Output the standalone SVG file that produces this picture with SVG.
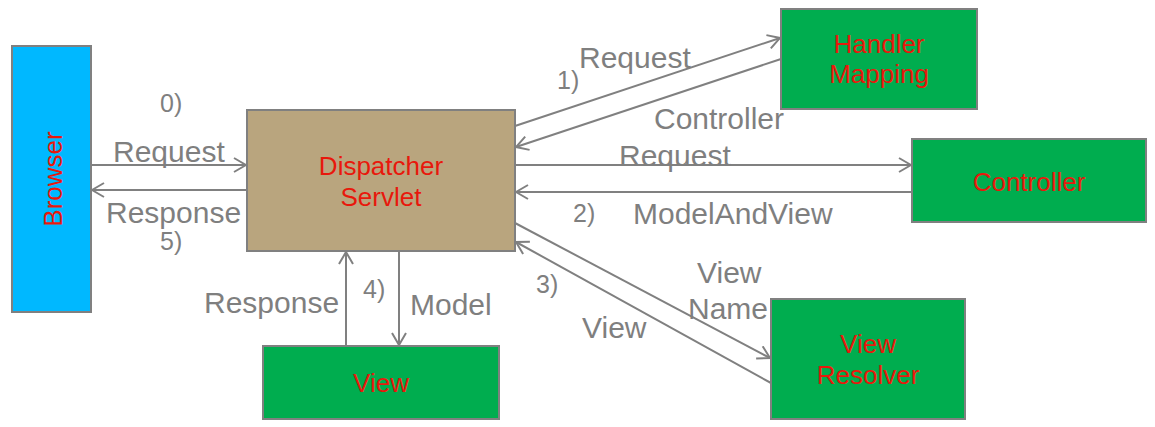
<svg xmlns="http://www.w3.org/2000/svg" width="1155" height="427" viewBox="0 0 1155 427">
<style>
.box{stroke:#808080;stroke-width:2}
.green{fill:#00ad4f}
.nt{font-family:"Liberation Sans",Arial,sans-serif;font-size:26px;fill:#e8180c;text-anchor:middle}
.lb{font-family:"Liberation Sans",Arial,sans-serif;font-size:30px;fill:#7f7f7f}
.num{font-family:"Liberation Sans",Arial,sans-serif;font-size:25px;fill:#7f7f7f}
.ln{stroke:#808080;stroke-width:2;fill:none}
</style>
<defs>
<marker id="ah" viewBox="0 0 14 16" refX="13" refY="8" markerWidth="14" markerHeight="16" markerUnits="userSpaceOnUse" orient="auto">
<path d="M1,1 L13,8 L1,15" fill="none" stroke="#808080" stroke-width="2"/>
</marker>
</defs>
<rect width="1155" height="427" fill="#ffffff"/>
<g id="connectors">
<line class="ln" x1="91" y1="165" x2="246" y2="165" marker-end="url(#ah)"/>
<line class="ln" x1="247" y1="190" x2="92" y2="190" marker-end="url(#ah)"/>
<line class="ln" x1="515" y1="126" x2="780" y2="38" marker-end="url(#ah)"/>
<line class="ln" x1="781" y1="59" x2="516" y2="147" marker-end="url(#ah)"/>
<line class="ln" x1="515" y1="165" x2="911" y2="165" marker-end="url(#ah)"/>
<line class="ln" x1="912" y1="192" x2="516" y2="192" marker-end="url(#ah)"/>
<line class="ln" x1="515" y1="223" x2="770" y2="358" marker-end="url(#ah)"/>
<line class="ln" x1="771" y1="383" x2="516" y2="242" marker-end="url(#ah)"/>
<line class="ln" x1="346" y1="346" x2="346" y2="252" marker-end="url(#ah)"/>
<line class="ln" x1="399" y1="251" x2="399" y2="345" marker-end="url(#ah)"/>
<text class="num" x="160" y="112">0)</text>
<text class="lb" x="113" y="162">Request</text>
<text class="lb" x="106" y="223">Response</text>
<text class="num" x="160" y="250">5)</text>
<text class="num" x="557" y="89">1)</text>
<text class="lb" x="579" y="68">Request</text>
<text class="lb" x="654" y="129">Controller</text>
<text class="lb" x="619" y="166">Request</text>
<text class="num" x="573" y="222">2)</text>
<text class="lb" x="633" y="224">ModelAndView</text>
<text class="num" x="536" y="293">3)</text>
<text class="lb" x="697" y="283">View</text>
<text class="lb" x="688" y="319">Name</text>
<text class="lb" x="582" y="338">View</text>
<text class="lb" x="204" y="313">Response</text>
<text class="num" x="363" y="298">4)</text>
<text class="lb" x="410" y="315">Model</text>
</g>
<g id="browser">
<rect class="box" x="12" y="46" width="79" height="266" fill="#00b8ff"/>
<text class="nt" transform="translate(62,179) rotate(-90)">Browser</text>
</g>
<g id="dispatcher">
<rect class="box" x="247" y="110" width="268" height="141" fill="#b9a57e"/>
<text class="nt" x="381" y="175">Dispatcher</text>
<text class="nt" x="381" y="206">Servlet</text>
</g>
<g id="handler-mapping">
<rect class="box green" x="781" y="9" width="196" height="100"/>
<text class="nt" x="879" y="53">Handler</text>
<text class="nt" x="879" y="83">Mapping</text>
</g>
<g id="controller">
<rect class="box green" x="912" y="139" width="234" height="83"/>
<text class="nt" x="1029" y="191">Controller</text>
</g>
<g id="view-resolver">
<rect class="box green" x="771" y="299" width="194" height="120"/>
<text class="nt" x="868" y="353">View</text>
<text class="nt" x="868" y="384">Resolver</text>
</g>
<g id="view">
<rect class="box green" x="263" y="346" width="236" height="73"/>
<text class="nt" x="381" y="392">View</text>
</g>
</svg>
